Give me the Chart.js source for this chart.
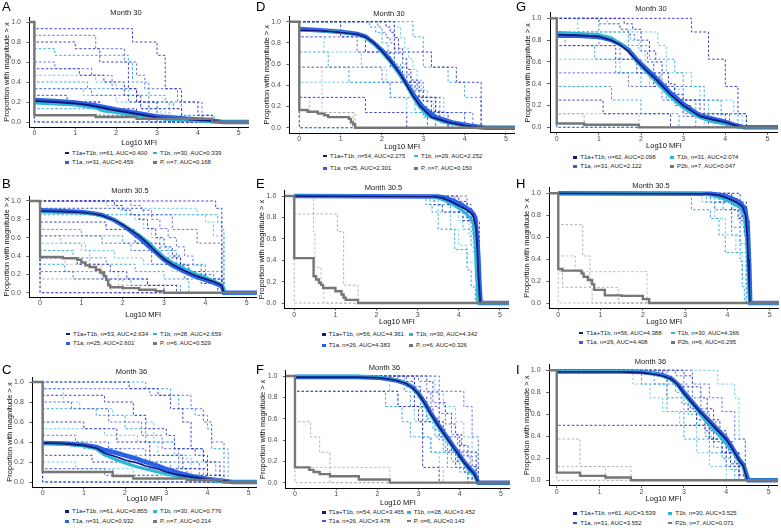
<!DOCTYPE html>
<html>
<head>
<meta charset="utf-8">
<script src="https://cdn.jsdelivr.net/npm/chart.js"></script>
<style>
  body { margin: 0; background: #fff; }
  #fig { position: relative; width: 781px; height: 528px; overflow: hidden; font-family: "Liberation Sans", Arial, sans-serif; }
  canvas { position: absolute; }
  .tag { position: absolute; font-size: 13px; line-height: 13px; color: #000; }
  .leg { position: absolute; font-size: 6px; line-height: 8px; color: #222; white-space: nowrap; }
  .leg i { display: inline-block; width: 4px; height: 2.5px; margin-right: 3px; vertical-align: middle; }
</style>
</head>
<body>
<div id="fig"></div>
<script>
// shared ticks
const xTicks = [0, 1, 2, 3, 4, 5];
const yTicks = [0, 0.2, 0.4, 0.6, 0.8, 1.0];

// ---------- A : Month 30 ----------
const legA = ["T1a+T1b, n=61, AUC=0.400", "T1b, n=30, AUC=0.339", "T1a, n=31, AUC=0.459", "P, n=7, AUC=0.168"];
const aT1aT1b = [[0,0.21],[0.5,0.2],[1,0.185],[1.3,0.17],[1.5,0.155],[1.8,0.13],[2,0.115],[2.3,0.095],[2.5,0.08],[2.8,0.06],[3,0.045],[3.5,0.033],[4,0.018],[4.4,0.008],[4.6,0]];
const aT1a = [[0,0.22],[0.5,0.21],[1,0.195],[1.5,0.165],[2,0.125],[2.5,0.09],[3,0.055],[3.5,0.04],[4,0.025],[4.4,0.01],[4.6,0]];
const aT1b = [[0,0.19],[0.5,0.18],[1,0.17],[1.5,0.14],[1.7,0.11],[2,0.095],[2.5,0.065],[3,0.035],[3.5,0.02],[4,0.01],[4.4,0]];
const aP = [[0,0.067],[1.5,0.05],[2.5,0.033],[4.35,0]];
const aT1aInd = [
  [[0,0.933],[2.4,0.8],[3,0.667],[3.2,0.333],[3.6,0.2],[4,0.067],[4.35,0]],
  [[0,0.867],[1.5,0.733],[2.2,0.6],[2.5,0.467],[2.7,0.333],[3.5,0.2],[4.1,0]],
  [[0,0.8],[1,0.733],[1.6,0.6],[2.3,0.333],[2.5,0.2],[3,0.133],[3.6,0]],
  [[0,0.6],[0.5,0.533],[1.4,0.467],[1.9,0.333],[2.5,0.2],[2.8,0]],
  [[0,0.533],[1.1,0.467],[1.7,0.4],[2.2,0.267],[2.6,0.133],[3,0]],
  [[0,0.333],[1.4,0.267],[2.3,0.2],[3.4,0.133],[3.6,0]],
  [[0,0.267],[0.8,0.2],[1.6,0.133],[2.5,0.067],[3.2,0]],
  [[0,0.2],[1.6,0.133],[2.2,0.067],[2.8,0]],
  [[0,0]]
];
const aT1bInd = [
  [[0,0.733],[0.5,0.667],[2.3,0.6],[2.4,0.4],[2.8,0.2],[3.3,0]],
  [[0,0.467],[1.5,0.4],[2,0.333],[2.3,0.2],[2.8,0.133],[3.2,0]],
  [[0,0.4],[1.3,0.333],[2.5,0.267],[3.2,0.2],[3.6,0.067],[4.4,0]],
  [[0,0.333],[1.2,0.267],[2,0.2],[2.6,0.133],[3.1,0.067],[3.4,0]],
  [[0,0.133],[1.6,0.067],[2.5,0]],
  [[0,0]]
];
const aPInd = [[[0,0.067],[4.35,0]], [[0,0]]];

// ---------- B : Month 30.5 ----------
const legB = ["T1a+T1b, n=53, AUC=2.634", "T1b, n=28, AUC=2.659", "T1a, n=25, AUC=2.601", "P, n=6, AUC=0.529"];
const bT1aT1b = [[0,0.89],[0.5,0.885],[1,0.875],[1.3,0.86],[1.5,0.84],[1.8,0.79],[2,0.74],[2.2,0.68],[2.4,0.62],[2.6,0.54],[2.8,0.45],[3,0.37],[3.2,0.31],[3.5,0.24],[3.8,0.18],[4,0.15],[4.2,0.12],[4.4,0.08],[4.45,0]];
const bT1a = [[0,0.9],[0.5,0.89],[1,0.88],[1.3,0.865],[1.5,0.845],[1.8,0.79],[2,0.735],[2.2,0.67],[2.4,0.6],[2.6,0.52],[2.8,0.44],[3,0.36],[3.2,0.3],[3.5,0.23],[3.8,0.17],[4,0.14],[4.2,0.11],[4.4,0.07],[4.45,0]];
const bT1b = [[0,0.88],[0.5,0.875],[1,0.87],[1.3,0.855],[1.5,0.835],[1.8,0.79],[2,0.745],[2.2,0.69],[2.4,0.63],[2.6,0.56],[2.8,0.47],[3,0.39],[3.2,0.33],[3.5,0.26],[3.8,0.2],[4,0.17],[4.2,0.13],[4.4,0.09],[4.5,0]];
const bP = [[0,0.39],[0.55,0.375],[0.9,0.36],[1,0.33],[1.1,0.3],[1.2,0.28],[1.35,0.25],[1.45,0.22],[1.55,0.18],[1.6,0.14],[1.65,0.08],[1.7,0.06],[2,0.05],[2.4,0.033],[2.8,0.017],[3,0]];
const bT1aInd = [
  [[0,1],[4.25,0.92],[4.4,0]],
  [[0,0.92],[2.5,0.85],[3.2,0.69],[3.8,0.54],[4.4,0]],
  [[0,0.77],[1.6,0.69],[2.3,0.54],[2.9,0.38],[3.4,0.23],[4,0.15],[4.4,0]],
  [[0,0.62],[1.5,0.54],[2.2,0.46],[2.7,0.31],[3.5,0.15],[4.45,0]],
  [[0,0.38],[0.9,0.31],[1.7,0.23],[2.1,0.15],[2.6,0.08],[3.3,0]],
  [[0,0.23],[0.8,0.15],[2.2,0.08],[3,0]],
  [[0,1],[1.8,0.95],[2,0.9],[2.2,0.85],[2.4,0.8],[2.6,0.7],[2.8,0.6],[3,0.5],[3.2,0.4],[3.4,0.3],[3.6,0.2],[3.9,0.1],[4.3,0]],
  [[0,1],[2.2,0.95],[2.45,0.9],[2.7,0.8],[2.9,0.7],[3.1,0.6],[3.3,0.5],[3.5,0.4],[3.7,0.3],[3.9,0.2],[4.2,0.1],[4.4,0]],
  [[0,0]]
];
const bT1bInd = [
  [[0,0.85],[4.3,0.77],[4.4,0.69],[4.45,0]],
  [[0,0.92],[3.8,0.85],[4,0.77],[4.2,0.62],[4.45,0]],
  [[0,0.69],[1,0.62],[2,0.54],[2.7,0.46],[3.3,0.31],[4,0.23],[4.4,0]],
  [[0,0.54],[1.1,0.46],[1.8,0.38],[2.5,0.31],[3.2,0.23],[3.9,0.15],[4.4,0]],
  [[0,0.46],[0.8,0.38],[1.6,0.31],[2.3,0.23],[3,0.15],[3.6,0]],
  [[0,1],[1.6,0.95],[1.9,0.9],[2.1,0.85],[2.3,0.8],[2.5,0.7],[2.7,0.6],[2.9,0.5],[3.1,0.4],[3.3,0.3],[3.6,0.2],[4,0.1],[4.4,0]],
  [[0,0.31],[0.6,0.23],[1.5,0.15],[2.6,0.08],[3.4,0]]
];
const bPInd = [
  [[0,0.62],[0.5,0.54],[1,0.46],[1.2,0.31],[1.5,0.15],[1.7,0]],
  [[0,0.38],[0.6,0.31],[1.4,0.23],[1.9,0.08],[2,0]],
  [[0,0.15],[2,0.08],[3,0]],
  [[0,0]]
];

// ---------- C : Month 36 ----------
const legC = ["T1a+T1b, n=61, AUC=0.855", "T1b, n=30, AUC=0.776", "T1a, n=31, AUC=0.932", "P, n=7, AUC=0.214"];
const cT1aT1b = [[0,0.39],[0.5,0.385],[1,0.365],[1.3,0.34],[1.5,0.29],[1.8,0.25],[2,0.22],[2.3,0.19],[2.5,0.16],[2.8,0.13],[3,0.1],[3.3,0.07],[3.6,0.05],[4,0.025],[4.4,0.01],[4.6,0]];
const cT1a = [[0,0.39],[0.5,0.385],[1,0.37],[1.3,0.35],[1.5,0.32],[1.8,0.29],[2,0.265],[2.3,0.23],[2.5,0.2],[2.8,0.16],[3,0.13],[3.3,0.09],[3.6,0.06],[4,0.03],[4.4,0.01],[4.6,0]];
const cT1b = [[0,0.39],[0.5,0.38],[1,0.36],[1.3,0.33],[1.5,0.27],[1.8,0.22],[2,0.19],[2.3,0.15],[2.5,0.13],[2.8,0.1],[3,0.08],[3.3,0.055],[3.6,0.035],[4,0.015],[4.4,0]];
const cP = [[0,0.1],[1.7,0.06],[2.2,0.035],[3.5,0.02],[4.35,0]];
const cT1aInd = [
  [[0,1],[2.1,0.933],[2.8,0.867],[3.1,0.733],[3.4,0.6],[3.6,0.333],[3.9,0.2],[4.3,0]],
  [[0,0.933],[2.6,0.867],[3.6,0.733],[3.9,0.6],[4.1,0.4],[4.4,0]],
  [[0,0.867],[1.5,0.8],[2.2,0.667],[2.5,0.533],[3,0.467],[3.2,0.333],[3.7,0.267],[4,0]],
  [[0,0.8],[0.7,0.733],[1.6,0.6],[2.4,0.467],[2.9,0.333],[3.3,0.2],[3.8,0]],
  [[0,0.6],[1,0.533],[1.8,0.4],[2.6,0.267],[3.4,0.133],[4,0]],
  [[0,0.467],[0.8,0.4],[1.6,0.333],[2.5,0.2],[3.1,0.067],[3.6,0]],
  [[0,0.267],[1.2,0.2],[2.4,0.133],[3.5,0.067],[4.4,0]],
  [[0,0.133],[1.5,0.067],[2.8,0]],
  [[0,0]]
];
const cT1bInd = [
  [[0,1],[2.5,0.933],[3.1,0.867],[3.3,0.733],[3.7,0.667],[4,0.533],[4.1,0.333],[4.5,0]],
  [[0,0.933],[0.5,0.8],[0.9,0.733],[1.7,0.667],[2.5,0.6],[2.7,0.4],[3.2,0.267],[3.6,0]],
  [[0,0.733],[1.3,0.667],[2,0.533],[2.5,0.4],[3.2,0.333],[3.9,0.2],[4.2,0]],
  [[0,0.533],[1.5,0.467],[2.3,0.4],[2.8,0.267],[3.5,0.2],[4,0]],
  [[0,0.4],[1,0.333],[1.9,0.267],[2.6,0.2],[3.3,0.133],[3.9,0]],
  [[0,0.2],[0.8,0.133],[2.2,0.067],[3,0]],
  [[0,0]]
];
const cPInd = [[[0,0.133],[1.7,0.067],[4.35,0]], [[0,0]]];

// ---------- D : Month 30 ----------
const legD = ["T1a+T1b, n=54, AUC=2.275", "T1b, n=29, AUC=2.252", "T1a, n=25, AUC=2.301", "P, n=7, AUC=0.150"];
const dT1aT1b = [[0,0.92],[0.5,0.915],[1,0.9],[1.4,0.88],[1.6,0.855],[1.8,0.8],[2,0.72],[2.2,0.63],[2.3,0.58],[2.45,0.5],[2.6,0.4],[2.75,0.3],[2.93,0.2],[3.2,0.1],[3.6,0.05],[4,0.02],[4.45,0]];
const dT1a = [[0,0.93],[0.5,0.92],[1,0.905],[1.4,0.885],[1.6,0.86],[1.8,0.8],[2,0.73],[2.2,0.64],[2.45,0.5],[2.6,0.41],[2.8,0.29],[3,0.19],[3.3,0.1],[3.7,0.05],[4.1,0.02],[4.5,0]];
const dT1b = [[0,0.92],[0.5,0.915],[1,0.9],[1.4,0.875],[1.6,0.85],[1.8,0.79],[2,0.71],[2.2,0.62],[2.45,0.49],[2.6,0.39],[2.75,0.29],[2.9,0.2],[3.1,0.11],[3.5,0.05],[4,0.015],[4.3,0]];
const dP = [[0,0.167],[0.2,0.15],[0.45,0.133],[0.6,0.117],[0.7,0.1],[1.2,0.083],[1.25,0.05],[1.3,0.033],[1.35,0]];
const dT1aInd = [
  [[0,1],[1,0.857],[1.6,0.714],[2.2,0.571],[2.5,0.429],[2.9,0.286],[3.3,0.143],[3.6,0]],
  [[0,0.857],[1.4,0.714],[2.3,0.571],[2.6,0.429],[3,0.286],[3.4,0.143],[4,0]],
  [[0,1],[2.3,0.714],[3.2,0.571],[3.8,0.429],[4.4,0]],
  [[0,0.571],[2,0.429],[2.7,0.286],[3.3,0.143],[4.2,0]],
  [[0,0.286],[1.6,0.143],[2.6,0]],
  [[0,1],[1.9,0.95],[2,0.9],[2.1,0.85],[2.2,0.8],[2.3,0.75],[2.4,0.7],[2.5,0.6],[2.6,0.5],[2.7,0.4],[2.8,0.3],[2.9,0.2],[3,0.1],[3.1,0]],
  [[0,1],[2.1,0.95],[2.2,0.9],[2.3,0.85],[2.4,0.75],[2.5,0.65],[2.6,0.55],[2.7,0.45],[2.85,0.35],[3,0.25],[3.2,0.15],[3.4,0.05],[3.6,0]],
  [[0,0]]
];
const dT1bInd = [
  [[0,1],[2.75,0.857],[3,0.571],[3.6,0.429],[4,0.286],[4.4,0]],
  [[0,0.857],[0.6,0.714],[1.5,0.571],[2.1,0.429],[2.8,0.286],[3.5,0.143],[4,0]],
  [[0,0.714],[0.7,0.571],[1.2,0.429],[2.2,0.286],[2.8,0.143],[3.3,0]],
  [[0,0.429],[2.2,0.286],[2.6,0.143],[3.1,0]],
  [[0,1],[1.7,0.95],[1.85,0.9],[2,0.8],[2.15,0.7],[2.3,0.6],[2.45,0.5],[2.6,0.4],[2.75,0.3],[2.9,0.2],[3.1,0.1],[3.3,0]],
  [[0,1],[2.3,0.95],[2.45,0.85],[2.55,0.75],[2.65,0.65],[2.75,0.55],[2.85,0.45],[2.95,0.35],[3.1,0.25],[3.25,0.15],[3.5,0.05],[3.7,0]],
  [[0,0]]
];
const dPInd = [[[0,0.286],[0.25,0.143],[1.35,0]], [[0,0.571],[0.55,0.143],[1.3,0]], [[0,0]]];

// ---------- E : Month 30.5 ----------
const legE = ["T1a+T1b, n=56, AUC=4.361", "T1b, n=30, AUC=4.342", "T1a, n=26, AUC=4.383", "P, n=6, AUC=0.326"];
const eT1aT1b = [[0,1],[3.4,0.995],[3.6,0.98],[3.8,0.95],[4,0.91],[4.2,0.87],[4.35,0.82],[4.42,0.7],[4.45,0.5],[4.47,0.3],[4.5,0.1],[4.52,0]];
const eT1a = [[0,1],[3.5,0.995],[3.7,0.98],[3.9,0.95],[4.1,0.91],[4.3,0.86],[4.4,0.8],[4.45,0.6],[4.48,0.4],[4.5,0.2],[4.53,0]];
const eT1b = [[0,1],[3.3,0.995],[3.5,0.98],[3.7,0.95],[3.9,0.91],[4.1,0.86],[4.25,0.81],[4.35,0.75],[4.4,0.55],[4.42,0.35],[4.45,0.15],[4.47,0]];
const eP = [[0,0.42],[0.47,0.25],[0.53,0.22],[0.6,0.19],[0.65,0.17],[0.7,0.14],[1,0.11],[1.15,0.08],[1.2,0.05],[1.25,0.03],[1.55,0]];
const eT1aInd = [
  [[0,1],[3.7,0.92],[4,0.85],[4.2,0.77],[4.35,0.62],[4.45,0.38],[4.5,0]],
  [[0,1],[3.9,0.95],[4.1,0.9],[4.2,0.85],[4.3,0.75],[4.35,0.65],[4.4,0.5],[4.45,0.3],[4.5,0]],
  [[0,1],[4,0.95],[4.2,0.88],[4.32,0.78],[4.4,0.6],[4.46,0.4],[4.5,0]],
  [[0,1],[4.2,0.92],[4.3,0.85],[4.4,0.69],[4.48,0]],
  [[0,1],[3.4,0.92],[3.6,0.85],[4.1,0.77],[4.5,0]]
];
const eT1bInd = [
  [[0,1],[3.2,0.92],[3.35,0.85],[3.5,0.69],[3.9,0.5],[4.2,0.31],[4.3,0.15],[4.4,0]],
  [[0,1],[3.5,0.85],[3.8,0.69],[4,0.54],[4.2,0.38],[4.45,0]],
  [[0,1],[3.3,0.92],[3.8,0.85],[4.1,0.69],[4.3,0.54],[4.42,0]],
  [[0,1],[3.7,0.92],[4,0.77],[4.25,0.62],[4.35,0.46],[4.4,0.23],[4.45,0]],
  [[0,1],[3.6,0.97],[3.9,0.93],[4.05,0.88],[4.2,0.8],[4.3,0.7],[4.38,0.55],[4.42,0.35],[4.46,0]]
];
const ePInd = [[[0,0.833],[1.05,0.667],[1.2,0.167],[1.55,0]], [[0,1],[0.47,0.667],[0.5,0.333],[0.65,0.167],[0.72,0]], [[0,0]]];

// ---------- F : Month 36 ----------
const legF = ["T1a+T1b, n=54, AUC=3.465", "T1b, n=28, AUC=3.452", "T1a, n=26, AUC=3.478", "P, n=6, AUC=0.143"];
const fT1aT1b = [[0,0.99],[1.5,0.99],[2,0.985],[2.3,0.97],[2.5,0.955],[2.7,0.93],[2.85,0.89],[3,0.83],[3.15,0.74],[3.3,0.64],[3.5,0.52],[3.7,0.41],[3.9,0.3],[4.1,0.19],[4.25,0.12],[4.35,0.08],[4.45,0]];
const fT1a = [[0,0.99],[1.5,0.99],[2,0.985],[2.3,0.97],[2.5,0.955],[2.7,0.93],[2.85,0.895],[3,0.835],[3.15,0.75],[3.3,0.65],[3.5,0.53],[3.7,0.42],[3.9,0.31],[4.1,0.2],[4.25,0.13],[4.35,0.09],[4.45,0]];
const fT1b = [[0,1],[1.5,1],[2,0.99],[2.3,0.975],[2.5,0.96],[2.7,0.935],[2.85,0.89],[3,0.825],[3.15,0.73],[3.3,0.63],[3.5,0.51],[3.7,0.4],[3.9,0.29],[4.1,0.18],[4.25,0.1],[4.35,0.07],[4.45,0]];
const fP = [[0,0.143],[0.35,0.12],[0.45,0.1],[0.6,0.08],[0.85,0.06],[1.55,0.03],[2.3,0]];
const fT1aInd = [
  [[0,0.857],[2.5,0.714],[3,0.571],[3.6,0.429],[4,0.286],[4.4,0]],
  [[0,1],[3.5,0.857],[4.1,0.714],[4.3,0.429],[4.45,0]],
  [[0,1],[2.7,0.95],[2.9,0.9],[3.05,0.8],[3.2,0.7],[3.35,0.6],[3.5,0.5],[3.65,0.4],[3.8,0.3],[3.95,0.2],[4.1,0.1],[4.3,0]],
  [[0,1],[3,0.95],[3.2,0.85],[3.35,0.75],[3.5,0.65],[3.65,0.55],[3.8,0.45],[3.95,0.35],[4.1,0.25],[4.25,0.15],[4.4,0]],
  [[0,1],[3.2,0.95],[3.35,0.85],[3.5,0.75],[3.65,0.65],[3.8,0.55],[3.9,0.45],[4.05,0.35],[4.2,0.25],[4.3,0.15],[4.45,0]],
  [[0,1],[2.9,0.857],[3.3,0.714],[3.5,0.429],[3.7,0.286],[3.9,0.143],[4.3,0]],
  [[0,1],[2.9,0.714],[3.1,0.143],[3.5,0]]
];
const fT1bInd = [
  [[0,1],[2.65,0.857],[2.8,0.714],[3.2,0.571],[3.4,0.429],[3.6,0.286],[3.9,0.143],[4.2,0]],
  [[0,1],[3.4,0.857],[3.6,0.714],[3.9,0.571],[4.1,0.429],[4.3,0.286],[4.45,0]],
  [[0,0.857],[2.2,0.714],[2.6,0.571],[2.8,0.429],[3.3,0.286],[3.7,0.143],[4.2,0]],
  [[0,1],[2.3,0.857],[2.5,0.714],[2.9,0.571],[3.1,0.429],[3.3,0.286],[3.5,0.143],[3.6,0]],
  [[0,1],[2.5,0.95],[2.7,0.9],[2.9,0.8],[3.05,0.7],[3.2,0.6],[3.35,0.5],[3.5,0.4],[3.65,0.3],[3.8,0.2],[4,0.1],[4.2,0]]
];
const fPInd = [[[0,0.571],[0.38,0.429],[0.6,0.286],[0.85,0]], [[0,0.143],[2.3,0]], [[0,0]]];

// ---------- G : Month 30 ----------
const legG = ["T1a+T1b, n=62, AUC=2.098", "T1b, n=31, AUC=2.074", "T1a, n=31, AUC=2.122", "P2b, n=7, AUC=0.047"];
const gT1aT1b = [[0,0.85],[0.5,0.845],[1,0.835],[1.3,0.8],[1.5,0.76],[1.7,0.7],[1.9,0.61],[2.1,0.53],[2.3,0.46],[2.45,0.4],[2.7,0.3],[3,0.2],[3.2,0.15],[3.4,0.1],[3.7,0.07],[4,0.045],[4.2,0.02],[4.4,0]];
const gT1a = [[0,0.84],[0.5,0.84],[1,0.83],[1.3,0.8],[1.5,0.765],[1.7,0.71],[1.9,0.62],[2.1,0.545],[2.3,0.475],[2.45,0.415],[2.7,0.315],[3,0.215],[3.2,0.16],[3.4,0.11],[3.7,0.08],[4,0.05],[4.2,0.025],[4.45,0]];
const gT1b = [[0,0.87],[0.5,0.86],[1,0.85],[1.3,0.82],[1.5,0.77],[1.7,0.7],[1.9,0.6],[2.1,0.52],[2.3,0.44],[2.45,0.38],[2.7,0.28],[3,0.18],[3.2,0.13],[3.4,0.09],[3.7,0.05],[4,0.03],[4.2,0.01],[4.3,0]];
const gP = [[0,0.036],[0.65,0.024],[1.95,0]];
const gT1aInd = [
  [[0,1],[3.2,0.875],[3.6,0.625],[4,0.375],[4.3,0.125],[4.5,0]],
  [[0,0.875],[1,0.75],[1.5,0.625],[2,0.5],[2.5,0.375],[3,0.25],[3.5,0.125],[4.5,0]],
  [[0,0.75],[1.4,0.625],[1.9,0.5],[2.3,0.375],[2.8,0.25],[3.4,0.125],[4,0]],
  [[0,0.5],[1.7,0.375],[2.5,0.25],[3,0.125],[4.1,0]],
  [[0,0.25],[1.1,0.125],[2.7,0]],
  [[0,1],[1,0.95],[1.5,0.9],[1.7,0.85],[1.85,0.8],[2,0.7],[2.15,0.6],[2.3,0.5],[2.45,0.4],[2.6,0.3],[2.8,0.2],[3,0.1],[3.3,0]],
  [[0,1],[1.6,0.95],[1.8,0.9],[2,0.8],[2.2,0.7],[2.35,0.6],[2.5,0.5],[2.65,0.4],[2.8,0.3],[3,0.2],[3.2,0.1],[3.6,0]],
  [[0,0]]
];
const gT1bInd = [
  [[0,1],[1,0.875],[1.7,0.75],[2.2,0.625],[2.8,0.5],[3,0.375],[3.5,0.25],[3.9,0.125],[4.3,0]],
  [[0,1],[0.5,0.875],[2.4,0.75],[2.6,0.5],[3.2,0.375],[3.4,0.25],[4.2,0.125],[4.4,0]],
  [[0,0.875],[0.2,0.75],[0.9,0.625],[1.4,0.5],[2,0.375],[2.6,0.25],[3.3,0.125],[3.9,0]],
  [[0,0.625],[1.5,0.5],[2.2,0.375],[2.9,0.25],[3.6,0.125],[4.1,0]],
  [[0,0.375],[1.3,0.25],[2,0.125],[2.9,0]],
  [[0,1],[1.2,0.95],[1.5,0.9],[1.75,0.8],[1.95,0.7],[2.1,0.6],[2.3,0.5],[2.45,0.4],[2.6,0.3],[2.85,0.2],[3.1,0.1],[3.5,0]],
  [[0,0]]
];
const gPInd = [[[0,0.125],[0.65,0]], [[0,0.125],[1.95,0]], [[0,0]]];

// ---------- H : Month 30.5 ----------
const legH = ["T1a+T1b, n=56, AUC=4.388", "T1b, n=30, AUC=4.366", "T1a, n=26, AUC=4.408", "P2b, n=6, AUC=0.295"];
const hT1aT1b = [[0,1],[3.5,0.995],[3.8,0.98],[4,0.955],[4.2,0.92],[4.35,0.88],[4.43,0.8],[4.47,0.6],[4.49,0.4],[4.51,0.2],[4.53,0]];
const hT1a = [[0,1],[3.6,0.995],[3.9,0.98],[4.1,0.955],[4.3,0.915],[4.42,0.86],[4.48,0.7],[4.5,0.5],[4.52,0.3],[4.54,0]];
const hT1b = [[0,1],[3.4,0.995],[3.7,0.975],[3.9,0.95],[4.1,0.915],[4.3,0.87],[4.4,0.8],[4.45,0.6],[4.48,0.4],[4.5,0.2],[4.52,0]];
const hP = [[0,0.31],[0.1,0.295],[0.55,0.27],[0.6,0.24],[0.7,0.21],[0.8,0.17],[0.85,0.12],[1.1,0.07],[1.5,0.065],[2,0.035],[2.15,0]];
const hT1aInd = [
  [[0,1],[3.8,0.92],[4.1,0.85],[4.25,0.77],[4.4,0.62],[4.5,0]],
  [[0,1],[4,0.95],[4.15,0.9],[4.25,0.85],[4.33,0.75],[4.4,0.65],[4.45,0.45],[4.5,0]],
  [[0,1],[4.1,0.95],[4.25,0.88],[4.35,0.78],[4.42,0.6],[4.48,0.4],[4.52,0]],
  [[0,1],[3.7,0.85],[4.3,0.69],[4.45,0.31],[4.5,0]],
  [[0,1],[4.3,0.92],[4.45,0.75],[4.52,0]]
];
const hT1bInd = [
  [[0,1],[3.15,0.85],[3.6,0.77],[3.8,0.62],[3.95,0.46],[4.3,0.38],[4.35,0.15],[4.4,0]],
  [[0,1],[3.4,0.92],[3.7,0.77],[3.95,0.62],[4.2,0.46],[4.35,0.23],[4.45,0]],
  [[0,1],[3.5,0.92],[3.9,0.85],[4.1,0.69],[4.3,0.54],[4.44,0]],
  [[0,1],[3.7,0.97],[3.95,0.93],[4.1,0.88],[4.25,0.8],[4.35,0.7],[4.42,0.5],[4.46,0.3],[4.5,0]],
  [[0,1],[3.6,0.92],[4.1,0.62],[4.3,0.46],[4.45,0]]
];
const hPInd = [[[0,0.714],[0.58,0.429],[0.75,0.143],[0.8,0]], [[0,0.429],[0.4,0.286],[2.1,0]], [[0,0.286],[0.1,0.143],[1.42,0]], [[0,0]]];

// ---------- I : Month 36 ----------
const legI = ["T1a+T1b, n=61, AUC=3.539", "T1b, n=30, AUC=3.525", "T1a, n=31, AUC=3.552", "P2b, n=7, AUC=0.071"];
const iT1aT1b = [[0,0.985],[1.5,0.985],[2,0.98],[2.3,0.965],[2.5,0.95],[2.7,0.92],[2.85,0.87],[3,0.79],[3.2,0.7],[3.4,0.61],[3.6,0.53],[3.8,0.45],[4,0.37],[4.15,0.28],[4.3,0.18],[4.4,0.13],[4.5,0]];
const iT1a = [[0,0.99],[1.5,0.99],[2,0.985],[2.3,0.97],[2.5,0.955],[2.7,0.925],[2.85,0.875],[3,0.8],[3.2,0.71],[3.4,0.62],[3.6,0.54],[3.8,0.46],[4,0.38],[4.15,0.29],[4.3,0.19],[4.4,0.14],[4.52,0]];
const iT1b = [[0,0.99],[1.5,0.99],[2,0.985],[2.3,0.97],[2.5,0.95],[2.7,0.915],[2.85,0.865],[3,0.78],[3.2,0.69],[3.4,0.59],[3.6,0.5],[3.8,0.42],[4,0.33],[4.15,0.26],[4.3,0.17],[4.4,0.12],[4.5,0]];
const iP = [[0,0.07],[0.55,0.04],[1.15,0.025],[1.75,0]];
const iT1aInd = [
  [[0,0.5],[3.6,0.375],[4,0.25],[4.3,0.125],[4.45,0]],
  [[0,1],[3.2,0.875],[3.6,0.75],[3.9,0.625],[4.2,0.375],[4.45,0]],
  [[0,1],[2.5,0.95],[2.7,0.9],[2.85,0.85],[3,0.75],[3.15,0.65],[3.3,0.55],[3.5,0.45],[3.7,0.35],[3.9,0.25],[4.1,0.15],[4.3,0.05],[4.45,0]],
  [[0,1],[2.8,0.95],[3,0.85],[3.2,0.75],[3.4,0.65],[3.55,0.55],[3.75,0.45],[3.9,0.35],[4.05,0.25],[4.2,0.15],[4.4,0]],
  [[0,1],[3,0.95],[3.2,0.85],[3.4,0.75],[3.55,0.65],[3.7,0.55],[3.85,0.45],[4,0.35],[4.15,0.25],[4.3,0.15],[4.45,0]],
  [[0,1],[2.6,0.875],[3.1,0.625],[3.6,0.375],[4,0.125],[4.3,0]]
];
const iT1bInd = [
  [[0,1],[2.3,0.875],[2.6,0.75],[3,0.625],[3.3,0.5],[3.6,0.375],[3.9,0.25],[4.2,0]],
  [[0,1],[1.8,0.875],[2.2,0.75],[2.5,0.625],[2.9,0.5],[3.3,0.25],[3.6,0.125],[4,0]],
  [[0,1],[2,0.875],[2.6,0.625],[3,0.375],[3.6,0.25],[4,0.125],[4.3,0]],
  [[0,1],[3.8,0.875],[4.2,0.75],[4.3,0.375],[4.45,0]],
  [[0,1],[2.4,0.95],[2.6,0.9],[2.8,0.8],[2.95,0.7],[3.1,0.6],[3.3,0.5],[3.5,0.4],[3.7,0.3],[3.9,0.2],[4.1,0.1],[4.3,0]]
];
const iPInd = [[[0,0.375],[0.55,0.125],[1.75,0]], [[0,0.125],[1.15,0]], [[0,0]]];

// panel content
const panels = [
  {tag: "A", title: "Month 30",   legend: legA, main: [aT1aT1b, aT1b, aT1a, aP], ind: [aT1aInd, aT1bInd, aPInd]},
  {tag: "B", title: "Month 30.5", legend: legB, main: [bT1aT1b, bT1b, bT1a, bP], ind: [bT1aInd, bT1bInd, bPInd]},
  {tag: "C", title: "Month 36",   legend: legC, main: [cT1aT1b, cT1b, cT1a, cP], ind: [cT1aInd, cT1bInd, cPInd]},
  {tag: "D", title: "Month 30",   legend: legD, main: [dT1aT1b, dT1b, dT1a, dP], ind: [dT1aInd, dT1bInd, dPInd]},
  {tag: "E", title: "Month 30.5", legend: legE, main: [eT1aT1b, eT1b, eT1a, eP], ind: [eT1aInd, eT1bInd, ePInd]},
  {tag: "F", title: "Month 36",   legend: legF, main: [fT1aT1b, fT1b, fT1a, fP], ind: [fT1aInd, fT1bInd, fPInd]},
  {tag: "G", title: "Month 30",   legend: legG, main: [gT1aT1b, gT1b, gT1a, gP], ind: [gT1aInd, gT1bInd, gPInd]},
  {tag: "H", title: "Month 30.5", legend: legH, main: [hT1aT1b, hT1b, hT1a, hP], ind: [hT1aInd, hT1bInd, hPInd]},
  {tag: "I", title: "Month 36",   legend: legI, main: [iT1aT1b, iT1b, iT1a, iP], ind: [iT1aInd, iT1bInd, iPInd]}
];

// where each panel sits (pixels) and its x range
const LAY = {
  A: {left: 29.5, right: 249.0, top: 17.0,  bottom: 127.0, xmin: -0.12, xmax: 5.25, titleY: 13,    xTitleY: 142.7, legY: [152.5, 162],   legX: [65, 153],       tag: [2, 0]},
  B: {left: 29.3, right: 257.0, top: 196.4, bottom: 297.3, xmin: -0.26, xmax: 5.25, titleY: 191,   xTitleY: 314.5, legY: [333.5, 343],   legX: [66, 153],       tag: [2, 177]},
  C: {left: 32.3, right: 257.3, top: 377.0, bottom: 487.0, xmin: -0.25, xmax: 5.2,  titleY: 372,   xTitleY: 498.5, legY: [511, 521],     legX: [65, 153],       tag: [2, 363]},
  D: {left: 289.4, right: 514.8, top: 16.4, bottom: 133.0, xmin: -0.24, xmax: 5.22, titleY: 14,    xTitleY: 146.7, legY: [155.5, 168],   legX: [323, 414],      tag: [256, 0]},
  E: {left: 284.8, right: 509.4, top: 190.7, bottom: 308.4, xmin: -0.23, xmax: 5.22, titleY: 188,  xTitleY: 321.7, legY: [334.3, 345],   legX: [321.7, 409],    tag: [256, 177]},
  F: {left: 285.9, right: 509.8, top: 370.7, bottom: 488.0, xmin: -0.22, xmax: 5.22, titleY: 367.7, xTitleY: 502.7, legY: [512, 520.5], legX: [321.7, 406.7],  tag: [256, 363]},
  G: {left: 550.0, right: 777.7, top: 12.9, bottom: 132.8, xmin: -0.16, xmax: 5.25, titleY: 9.3,   xTitleY: 145.7, legY: [157, 166],     legX: [573.3, 670],    tag: [516, 0]},
  H: {left: 549.4, right: 778.6, top: 187.8, bottom: 308.5, xmin: -0.21, xmax: 5.22, titleY: 186,  xTitleY: 321.7, legY: [332.7, 342],   legX: [579.3, 670.7],  tag: [516, 177]},
  I: {left: 549.1, right: 778.0, top: 364.8, bottom: 485.8, xmin: -0.18, xmax: 5.22, titleY: 362,  xTitleY: 498.7, legY: [513, 522.7],   legX: [573.3, 668.3],  tag: [516, 363]}
};

const mainColors = ["#17177a", "#2cb6d8", "#2a62e6", "#767676"];
const mainWidths = [1.8, 3, 4.5, 2.4];
const mainOrder = [1, 2, 3, 0];   // grey P drawn on top, then the navy pooled curve
const indColors = [["#2d2dc6", "#5a66de"], ["#2aa0d4", "#62c6e6"], ["#a9a9a9", "#b8b8b8"]];
const FONT = "'Liberation Sans', Arial, sans-serif";

const fig = document.getElementById("fig");

// group curves start at x = 0; individual and P curves start from 1 at the left edge
function toXY(pts, fromZero) {
  const out = fromZero ? [] : [{x: -1, y: 1}];
  pts.forEach(p => out.push({x: p[0], y: p[1]}));
  out.push({x: 6, y: pts[pts.length - 1][1]});
  return out;
}

function makePanel(p) {
  const g = LAY[p.tag];
  const L = Math.round(g.left - 26.5);
  const T = Math.round(g.titleY - 4);
  const W = Math.round(g.right - L);
  const H = Math.round(g.xTitleY + 4 - T);
  const yW = g.left - L;
  const xH = T + H - g.bottom;

  const cv = document.createElement("canvas");
  cv.width = W; cv.height = H;
  cv.style.left = L + "px"; cv.style.top = T + "px";
  cv.style.width = W + "px"; cv.style.height = H + "px";
  fig.appendChild(cv);

  const datasets = [];
  p.main.forEach((pts, k) => {
    datasets.push({
      data: toXY(pts, k < 3), borderColor: mainColors[k], borderWidth: mainWidths[k],
      stepped: k === 3, pointRadius: 0, fill: false, order: mainOrder[k]
    });
  });
  p.ind.forEach((group, gi) => {
    group.forEach((pts, j) => {
      datasets.push({
        data: toXY(pts, false), borderColor: indColors[gi][j % 2], borderWidth: 0.9,
        borderDash: [2.5, 2], stepped: true, pointRadius: 0, fill: false, order: 10 + gi
      });
    });
  });

  new Chart(cv, {
    type: "line",
    data: {datasets},
    options: {
      responsive: false, animation: false, devicePixelRatio: 1,
      layout: {padding: 0},
      plugins: {
        legend: {display: false}, tooltip: {enabled: false},
        title: {display: true, text: p.title, color: "#222",
          font: {family: FONT, size: 7.5, weight: "normal", lineHeight: "8px"},
          padding: {top: 0, bottom: g.top - T - 8}}
      },
      scales: {
        x: {
          type: "linear", min: g.xmin, max: g.xmax,
          afterBuildTicks: s => { s.ticks = xTicks.map(v => ({value: v})); },
          afterFit: s => { s.height = xH; s.paddingLeft = 0; s.paddingRight = 0; },
          ticks: {font: {family: FONT, size: 7}, color: "#4d4d4d", padding: 0, maxRotation: 0, callback: v => String(v)},
          grid: {drawOnChartArea: false, drawTicks: true, tickLength: 2, color: "#333", lineWidth: 0.8},
          border: {display: true, color: "#000", width: 1},
          title: {display: true, text: "Log10 MFI", color: "#111", font: {family: FONT, size: 7.5, lineHeight: "8px"}, padding: 0}
        },
        y: {
          type: "linear", min: -0.05, max: 1.05,
          afterBuildTicks: s => { s.ticks = yTicks.map(v => ({value: v})); },
          afterFit: s => { s.width = yW; s.paddingTop = 0; s.paddingBottom = 0; },
          ticks: {font: {family: FONT, size: 7}, color: "#4d4d4d", padding: 5.5, callback: v => v.toFixed(1)},
          grid: {drawOnChartArea: false, drawTicks: true, tickLength: 3, color: "#333", lineWidth: 0.8},
          border: {display: true, color: "#000", width: 1},
          title: {display: true, text: "Proportion with magnitude > x", color: "#111", font: {family: FONT, size: 7.5, lineHeight: "8px"}, padding: 0}
        }
      }
    }
  });

  // panel letter
  const t = document.createElement("div");
  t.className = "tag"; t.textContent = p.tag;
  t.style.left = g.tag[0] + "px"; t.style.top = g.tag[1] + "px";
  fig.appendChild(t);

  // legend: two rows, two columns
  p.legend.forEach((txt, k) => {
    const d = document.createElement("div");
    d.className = "leg";
    d.style.left = g.legX[k % 2] + "px";
    d.style.top = (g.legY[Math.floor(k / 2)] - 4) + "px";
    d.innerHTML = '<i style="background:' + mainColors[k] + '"></i>' + txt;
    fig.appendChild(d);
  });
}

panels.forEach(makePanel);
</script>
</body>
</html>
